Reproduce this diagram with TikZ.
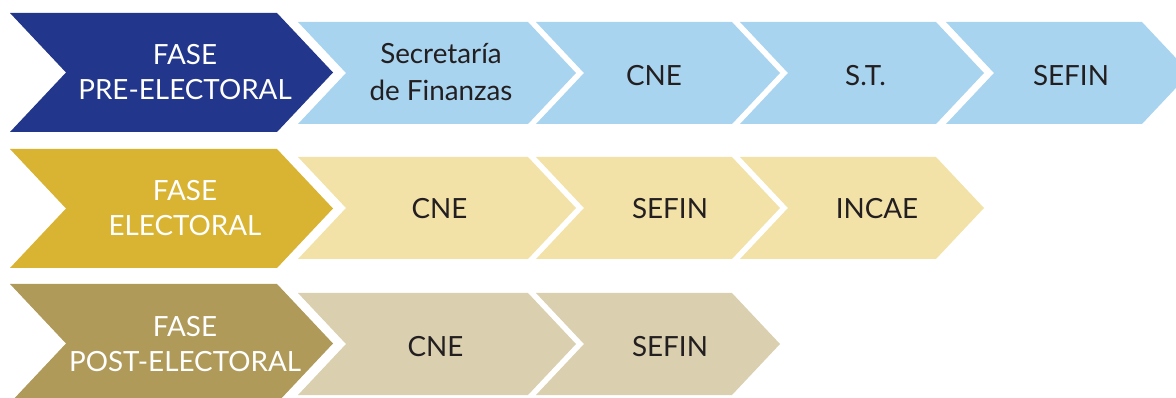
\documentclass[tikz,border=0pt]{standalone}
\usepackage{fontspec}
\setmainfont{Lato}
\usetikzlibrary{positioning}
\definecolor{preDark}{RGB}{34,54,140}
\definecolor{preLight}{RGB}{168,212,240}
\definecolor{elDark}{RGB}{217,179,50}
\definecolor{elLight}{RGB}{243,226,168}
\definecolor{postDark}{RGB}{176,154,90}
\definecolor{postLight}{RGB}{218,208,176}
\definecolor{ink}{RGB}{35,31,32}
% chevron: x left, x top-right, y top, height, depth
\newcommand{\chevron}[5]{(#1,#3) -- (#2,#3) -- ({#2+#5},{#3+#4/2}) -- (#2,{#3+#4}) -- (#1,{#3+#4}) -- ({#1+#5},{#3+#4/2}) -- cycle}

\begin{document}
\begin{tikzpicture}[x=1pt, y=-1pt,
	phase/.style={align=center, text=white, font=\fontsize{27.8}{35.5}\selectfont},
	office/.style={align=center, text=ink, font=\fontsize{27.8}{37.5}\selectfont}]
			\useasboundingbox (0,0) rectangle (1176,398);
			\clip (0,0) rectangle (1176,398);
			% fase pre-electoral
			\fill[preDark] \chevron{10}{277}{13}{119}{56};
			\node[phase] (pre) at (185,72) {FASE\\PRE-ELECTORAL};
			\foreach \name/\xa/\xb/\tx/\ty/\txt in {preSec/298/528/441/72/{Secretaría\\de Finanzas}, preCne/536/732/654/76/CNE, preSt/740/936/865.5/76/S.T., preSefin/946/1142/1071/76/SEFIN}{
				\fill[preLight] \chevron{\xa}{\xb}{22}{102}{48};
				\node[office] (\name) at (\tx,\ty) {\txt};
			}
			% fase electoral
			\fill[elDark] \chevron{10}{277}{149}{119}{56};
			\node[phase] (el) at (185,208) {FASE\\ELECTORAL};
			\foreach \name/\xa/\xb/\tx/\txt in {elCne/298/528/439.5/CNE, elSefin/536/732/670/SEFIN, elIncae/740/936/877/INCAE}{
				\fill[elLight] \chevron{\xa}{\xb}{157}{102}{48};
				\node[office] (\name) at (\tx,208.5) {\txt};
			}
			% fase post-electoral
			\fill[postDark] \chevron{10}{277}{284}{119}{56};
			\node[phase] (post) at (185,344) {FASE\\POST-ELECTORAL};
			\foreach \name/\xa/\xb/\tx/\txt in {postCne/298/528/435.5/CNE, postSefin/536/732/670/SEFIN}{
				\fill[postLight] \chevron{\xa}{\xb}{293}{102}{48};
				\node[office] (\name) at (\tx,347) {\txt};
			}
		\end{tikzpicture}
\end{document}
